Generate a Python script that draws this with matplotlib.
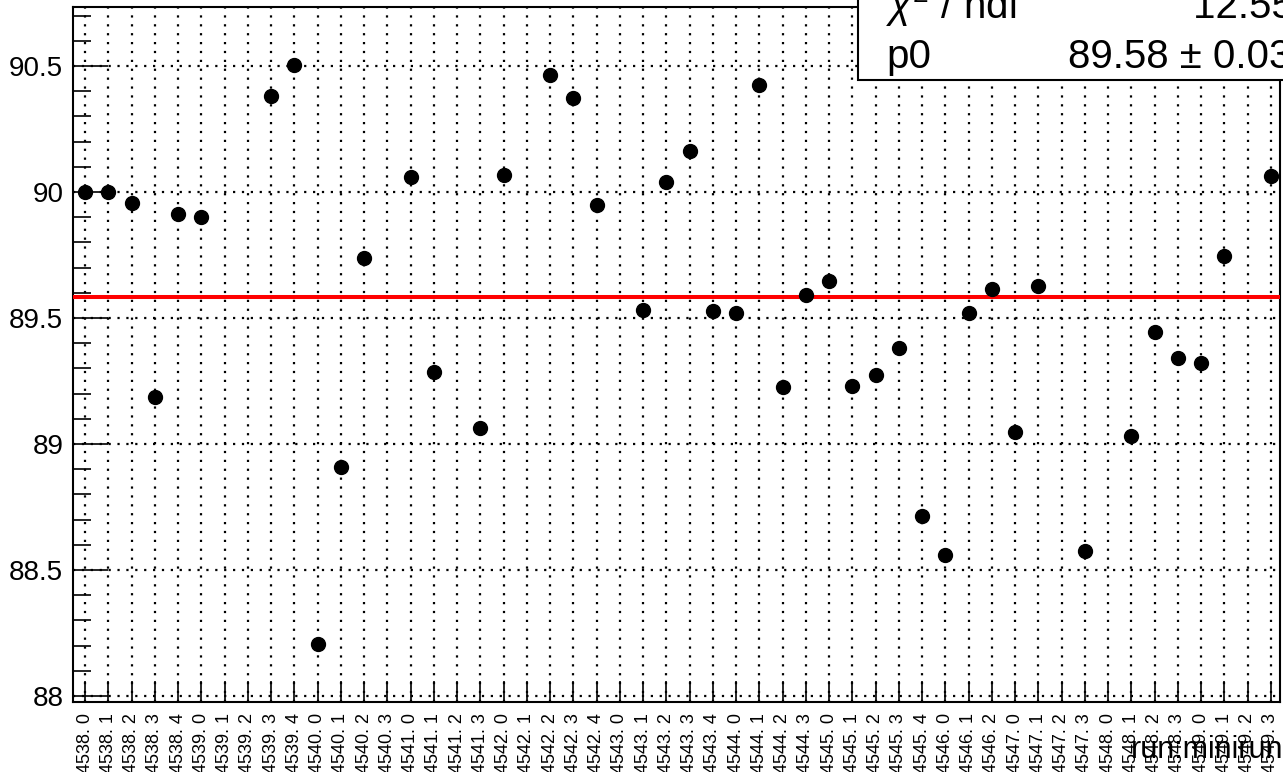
import numpy as np
import matplotlib.pyplot as plt
from matplotlib.patches import Rectangle

plt.rcParams['font.family'] = ['Liberation Sans', 'DejaVu Sans']
plt.rcParams['mathtext.fontset'] = 'custom'
plt.rcParams['mathtext.rm'] = 'Liberation Sans'
plt.rcParams['mathtext.it'] = 'Liberation Sans:italic'

# run.minirun labels
runs = ['4538'] * 5 + ['4539'] * 5 + ['4540'] * 4 + ['4541'] * 4 + ['4542'] * 5 + \
       ['4543'] * 5 + ['4544'] * 4 + ['4545'] * 5 + ['4546'] * 3 + ['4547'] * 4 + \
       ['4548'] * 4 + ['4549'] * 4
miniruns = [0, 1, 2, 3, 4, 0, 1, 2, 3, 4, 0, 1, 2, 3, 0, 1, 2, 3, 0, 1, 2, 3, 4,
            0, 1, 2, 3, 4, 0, 1, 2, 3, 0, 1, 2, 3, 4, 0, 1, 2, 0, 1, 2, 3,
            0, 1, 2, 3, 0, 1, 2, 3]
xlabels = [r + '. ' + str(m) for r, m in zip(runs, miniruns)]

nan = np.nan
values = [90.00, 90.00, 89.956, 89.187, 89.913, 89.901, nan, nan, 90.381, 90.504,
          88.206, 88.909, 89.738, nan, 90.060, 89.286, nan, 89.063, 90.067, nan,
          90.464, 90.373, 89.948, nan, 89.532, 90.040, 90.163, 89.528, 89.520, 90.425,
          89.226, 89.591, 89.647, 89.230, 89.274, 89.381, 88.714, 88.560, 89.520, 89.615,
          89.048, 89.627, nan, 88.575, nan, 89.032, 89.444, 89.341, 89.321, 89.746,
          nan, 90.063]
p0 = 89.583

W, H = 1283, 772
fig = plt.figure(figsize=(W / 100, H / 100), dpi=100)
ax = fig.add_axes([73 / W, (H - 701.7) / H, 1207 / W, 694.7 / H])

x = np.arange(len(xlabels))
ax.plot(x, values, 'o', color='black', markersize=10, zorder=5)
ax.plot([-0.52, 51.39], [p0, p0], color='red', lw=2.9, zorder=4)

ax.set_xlim(-0.52, 51.39)
ax.set_ylim(87.977, 90.734)

ax.set_xticks(x)
ax.set_xticklabels(xlabels, rotation=90, fontsize=13)
ax.set_yticks([88, 88.5, 89, 89.5, 90, 90.5])
ax.set_yticklabels(['88', '88.5', '89', '89.5', '90', '90.5'], fontsize=20)
ax.set_yticks(np.arange(88.0, 90.75, 0.1), minor=True)

ax.tick_params(axis='y', which='major', direction='in', length=25, width=1.2, pad=7)
ax.tick_params(axis='y', which='minor', direction='in', length=13, width=1.2)
ax.tick_params(axis='x', which='major', direction='in', length=15, width=1.2, pad=8)
ax.grid(True, which='major', color='black', lw=1.6, linestyle=(0, (1, 3)))

for s in ax.spines.values():
    s.set_linewidth(1.5)

fig.text(1283 / W, (H - 758) / H, 'run:minirun', fontsize=22, ha='right', va='baseline')

# fit statistics box, cut by the canvas edge
box = Rectangle((858 / W, (H - 80) / H), 0.5, 0.5, transform=fig.transFigure,
                facecolor='white', edgecolor='black', lw=1.5, zorder=10)
fig.add_artist(box)
fig.text(886 / W, (H - 18) / H, r'$\chi^{2}$ / ndf', fontsize=29, va='baseline', zorder=11)
fig.text(1193 / W, (H - 18) / H, '12.55 / 40', fontsize=29, va='baseline', zorder=11)
fig.text(886 / W, (H - 68) / H, 'p0', fontsize=29, va='baseline', zorder=11)
fig.text(1068 / W, (H - 68) / H, '89.58 \u00b1 0.03', fontsize=29, va='baseline', zorder=11)

fig.savefig('out.png', dpi=100)
